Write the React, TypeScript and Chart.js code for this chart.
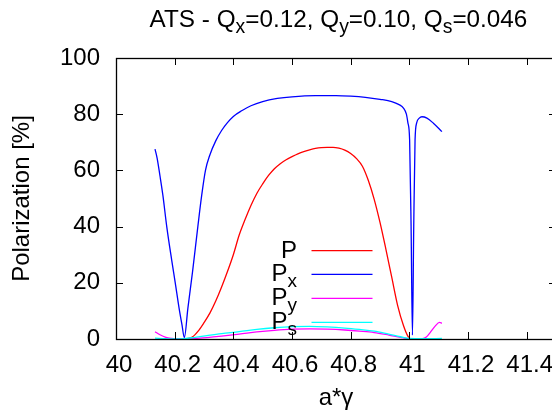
import React, { useEffect, useRef } from "react";
import { Chart, registerables } from "chart.js";

Chart.register(...registerables);

const FONT = '"Liberation Sans", Arial, Helvetica, sans-serif';

// P (red)
const pX = [40.24, 40.26, 40.28, 40.3, 40.32, 40.34, 40.36, 40.38, 40.4, 40.42, 40.44, 40.46, 40.48, 40.5, 40.52, 40.54, 40.56, 40.58, 40.6, 40.62, 40.64, 40.66, 40.68, 40.7, 40.72, 40.74, 40.76, 40.78, 40.8, 40.82, 40.84, 40.86, 40.88, 40.9, 40.92, 40.94, 40.96, 40.98, 40.995, 41.003];
const pY = [0.1, 0.7, 2.8, 5.8, 9.2, 13.5, 18.5, 24, 30, 37, 42.5, 47.5, 51.8, 55.2, 58.2, 60.6, 62.4, 63.8, 64.9, 65.9, 66.7, 67.3, 67.8, 68.1, 68.2, 68.2, 67.9, 67.2, 66.0, 64.2, 61.5, 56.5, 49.8, 41.5, 32, 22, 12, 4.8, 1.0, 0.1];

// Px (blue)
const pxX = [40.133, 40.14, 40.15, 40.16, 40.173, 40.19, 40.202, 40.215, 40.225, 40.233, 40.245, 40.261, 40.279, 40.292, 40.305, 40.32, 40.34, 40.36, 40.38, 40.4, 40.43, 40.46, 40.5, 40.55, 40.6, 40.68, 40.75, 40.8, 40.85, 40.9, 40.94, 40.965, 40.98, 40.99, 40.995, 41.001, 41.006, 41.0106, 41.015, 41.0195, 41.025, 41.034, 41.043, 41.06, 41.082, 41.111];
const pxY = [67.6, 64.5, 58, 51, 40, 28, 20, 11, 5, 0.5, 10.9, 24, 40, 51, 60, 65.5, 70.5, 74.2, 77, 79.2, 81.3, 83, 84.5, 85.6, 86.2, 86.6, 86.6, 86.4, 86, 85.3, 84.5, 83.4, 82.2, 80, 77, 70.8, 40, 1.4, 40, 70.8, 76.9, 78.6, 79.1, 78.6, 76.8, 73.8];

// Py (magenta)
const pyX = [40.133, 40.15, 40.17, 40.19, 40.21, 40.24, 40.27, 40.31, 40.36, 40.42, 40.48, 40.54, 40.6, 40.66, 40.72, 40.78, 40.83, 40.88, 40.93, 40.97, 41.0, 41.02, 41.045, 41.058, 41.071, 41.088, 41.103, 41.111];
const pyY = [2.6, 1.5, 0.6, 0.2, 0, 0, 0.2, 0.5, 1.0, 1.7, 2.5, 3.1, 3.5, 3.6, 3.5, 3.2, 2.8, 2.3, 1.4, 0.6, 0.1, 0, 0.1, 0.7, 2.3, 4.6, 5.9, 5.6];

// Ps (cyan)
const psX = [40.133, 40.17, 40.2, 40.233, 40.27, 40.31, 40.36, 40.42, 40.48, 40.54, 40.6, 40.66, 40.72, 40.78, 40.83, 40.88, 40.93, 40.97, 41.0, 41.05, 41.111];
const psY = [0.3, 0.1, 0, 0.1, 0.6, 1.2, 1.9, 2.6, 3.4, 4.0, 4.4, 4.5, 4.3, 3.9, 3.4, 2.8, 1.7, 0.8, 0.2, 0.1, 0.2];

const seriesNames = ["P", "Px", "Py", "Ps"];
const seriesSubs = ["", "x", "y", "s"];
const seriesColors = ["#ff0000", "#0000ff", "#ff00ff", "#00ffff"];

const xMin = 40;
const xMax = 41.5;
const xStep = 0.2;
const yMin = 0;
const yMax = 100;
const yStep = 20;

const titleParts: [string, boolean][] = [
  ["ATS - Q", false],
  ["x", true],
  ["=0.12, Q", false],
  ["y", true],
  ["=0.10, Q", false],
  ["s", true],
  ["=0.046", false],
];

const zip = (xs: number[], ys: number[]) => xs.map((x, i) => ({ x, y: ys[i] }));

const MAIN = 24;
const SUB = 19;

function drawRich(ctx: CanvasRenderingContext2D, parts: [string, boolean][], x: number, y: number, align: "left" | "right" | "center", main = MAIN, sub = SUB) {
  const widths = parts.map(([t, s]) => {
    ctx.font = `${s ? sub : main}px ${FONT}`;
    return ctx.measureText(t).width;
  });
  const total = widths.reduce((a, b) => a + b, 0);
  let cx = align === "left" ? x : align === "right" ? x - total : x - total / 2;
  ctx.textAlign = "left";
  ctx.textBaseline = "alphabetic";
  parts.forEach(([t, s], i) => {
    ctx.font = `${s ? sub : main}px ${FONT}`;
    ctx.fillText(t, cx, s ? y + 6 : y);
    cx += widths[i];
  });
}

const decorPlugin = {
  id: "decor",
  afterDraw(chart: any) {
    const ctx: CanvasRenderingContext2D = chart.ctx;
    const a = chart.chartArea;
    const xs = chart.scales.x;
    const ys = chart.scales.y;
    ctx.save();
    ctx.strokeStyle = "#000";
    ctx.lineWidth = 1;
    ctx.beginPath();
    ys.ticks.forEach((t: any) => {
      const py = Math.round(ys.getPixelForValue(t.value)) + 0.5;
      ctx.moveTo(a.left, py);
      ctx.lineTo(a.left + 7, py);
      ctx.moveTo(a.right, py);
      ctx.lineTo(a.right - 7, py);
    });
    xs.ticks.forEach((t: any) => {
      const px = Math.round(xs.getPixelForValue(t.value)) + 0.5;
      ctx.moveTo(px, a.bottom);
      ctx.lineTo(px, a.bottom - 7);
      ctx.moveTo(px, a.top);
      ctx.lineTo(px, a.top + 7);
    });
    ctx.stroke();
    ctx.lineWidth = 1.3;
    ctx.strokeRect(a.left + 0.5, a.top + 0.5, a.right - a.left, a.bottom - a.top);

    ctx.fillStyle = "#000";
    // title
    drawRich(ctx, titleParts, 338.5, 27, "center", 24.3, 19.4);

    // x title
    ctx.font = `${MAIN}px ${FONT}`;
    ctx.textAlign = "center";
    ctx.textBaseline = "alphabetic";
    ctx.fillText("a*\u03b3", (a.left + a.right) / 2, 405);

    // y title
    ctx.save();
    ctx.translate(29, (a.top + a.bottom) / 2);
    ctx.rotate(-Math.PI / 2);
    ctx.textAlign = "center";
    ctx.fillText("Polarization [%]", 0, 0);
    ctx.restore();

    // legend
    const rowY = [250.7, 274.3, 298.3, 322.3];
    seriesNames.forEach((n, i) => {
      const parts: [string, boolean][] = seriesSubs[i] ? [["P", false], [seriesSubs[i], true]] : [["P", false]];
      ctx.fillStyle = "#000";
      drawRich(ctx, parts, 297, rowY[i] + 7, "right");
      ctx.strokeStyle = seriesColors[i];
      ctx.lineWidth = 1.3;
      ctx.beginPath();
      ctx.moveTo(311.5, rowY[i]);
      ctx.lineTo(372.5, rowY[i]);
      ctx.stroke();
    });
    ctx.restore();
  },
};

export default function App() {
  const ref = useRef<HTMLCanvasElement>(null);
  useEffect(() => {
    document.body.style.margin = "0";
    document.body.style.overflow = "hidden";
    const series = [zip(pX, pY), zip(pxX, pxY), zip(pyX, pyY), zip(psX, psY)];
    const chart = new Chart(ref.current!, {
      type: "line",
      data: {
        datasets: series.map((d, i) => ({
          label: seriesNames[i],
          data: d,
          borderColor: seriesColors[i],
          backgroundColor: seriesColors[i],
          borderWidth: 1.3,
          pointRadius: 0,
          fill: false,
          cubicInterpolationMode: "monotone" as const,
          order: 4 - i,
        })),
      },
      options: {
        animation: false,
        responsive: false,
        devicePixelRatio: 1,
        layout: { padding: { left: 0, top: 58, right: 44, bottom: 0 } },
        plugins: { legend: { display: false }, title: { display: false }, tooltip: { enabled: false } },
        scales: {
          x: {
            type: "linear",
            min: xMin,
            max: xMax,
            grid: { display: false, drawTicks: false },
            border: { display: false },
            ticks: {
              stepSize: xStep,
              includeBounds: false,
              autoSkip: false,
              maxRotation: 0,
              padding: 12,
              labelOffset: 3,
              color: "#000",
              font: { family: FONT, size: MAIN },
              callback: (v: any) => String(Math.round(Number(v) * 10) / 10),
            },
            afterFit: (s: any) => {
              s.height = 74;
            },
          },
          y: {
            type: "linear",
            min: yMin,
            max: yMax,
            grid: { display: false, drawTicks: false },
            border: { display: false },
            ticks: {
              stepSize: yStep,
              padding: 16,
              color: "#000",
              font: { family: FONT, size: MAIN },
            },
            afterFit: (s: any) => {
              s.width = 116;
            },
          },
        },
      },
      plugins: [decorPlugin],
    });
    return () => chart.destroy();
  }, []);
  return (
    <div style={{ position: "fixed", left: 0, top: 0, width: 552, height: 413, overflow: "hidden", background: "#fff" }}>
      <canvas ref={ref} width={600} height={413} style={{ display: "block" }} />
    </div>
  );
}
